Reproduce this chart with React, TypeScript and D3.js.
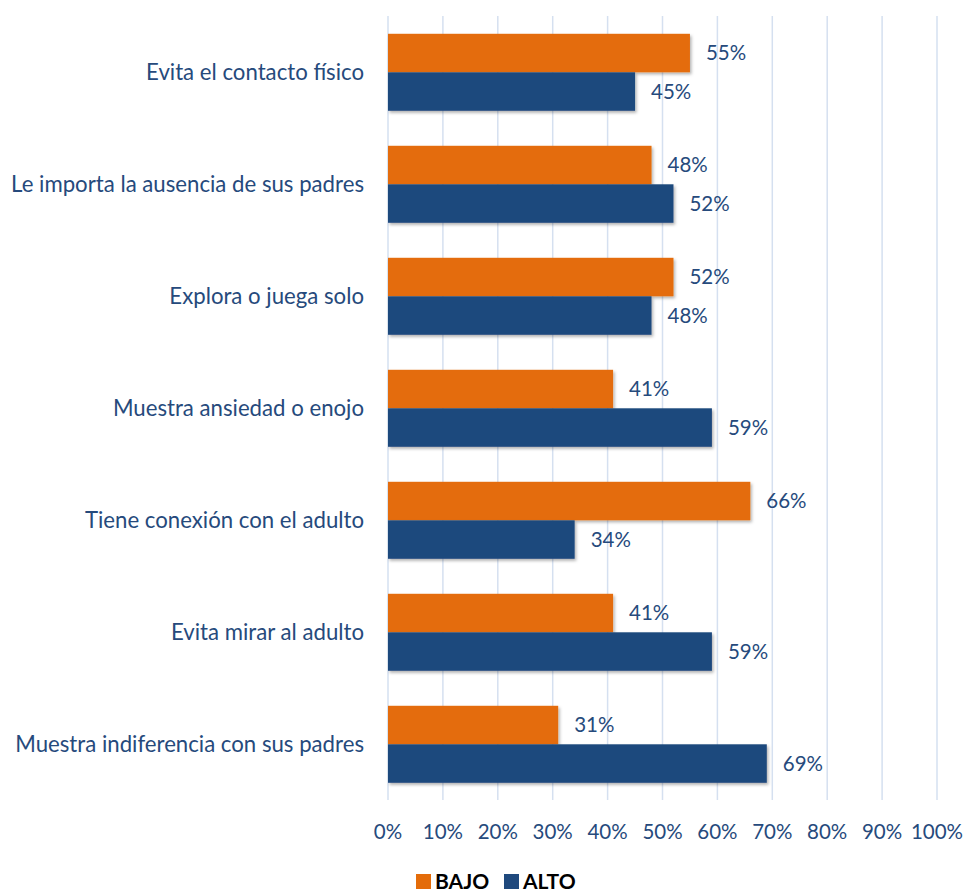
import React from "react";
import * as d3 from "d3";

const categories = [
  "Evita el contacto físico",
  "Le importa la ausencia de sus padres",
  "Explora o juega solo",
  "Muestra ansiedad o enojo",
  "Tiene conexión con el adulto",
  "Evita mirar al adulto",
  "Muestra indiferencia con sus padres",
];
const bajo = [55, 48, 52, 41, 66, 41, 31];
const alto = [45, 52, 48, 59, 34, 59, 69];
const seriesNames = ["BAJO", "ALTO"];
const colors = ["#e46c0a", "#1f497d"];
const ticks = [0, 10, 20, 30, 40, 50, 60, 70, 80, 90, 100];

const W = 965;
const H = 893;
const FONT = "Lato, sans-serif";
const TEXT = "#264a7c";
const FS = 20.5;

export default function App() {
  const x = d3.scaleLinear().domain([0, 100]).range([388, 937]);
  const y = d3.scaleBand<string>().domain(categories).range([16.3, 800.3]).paddingInner(0.3125).paddingOuter(0.15625);
  const bw = y.bandwidth() / 2;
  const series = [bajo, alto];
  return (
    <svg width={W} height={H} style={{ position: "absolute", left: 0, top: 0 }}>
      <defs>
        <filter id="sh" x="-5%" y="-20%" width="115%" height="160%">
          <feDropShadow dx="1.5" dy="2" stdDeviation="1.5" floodColor="#000" floodOpacity="0.3" />
        </filter>
      </defs>
      <rect width={W} height={H} fill="#fff" />
      {ticks.map((t) => (
        <line key={t} x1={x(t)} x2={x(t)} y1={16} y2={800} stroke="#d5e0f0" strokeWidth={1.5} />
      ))}
      {categories.map((c, i) => (
        <g key={c}>
          {series.map((s, k) => {
            const y0 = (y(c) as number) + k * bw;
            return (
              <g key={k}>
                <rect x={x(0)} y={y0} width={x(s[i]) - x(0)} height={bw} fill={colors[k]} filter="url(#sh)" />
                <text x={x(s[i]) + 16} y={y0 + bw / 2} dy="0.36em" fontFamily={FONT} fontSize={FS} fill={TEXT}>
                  {s[i]}%
                </text>
              </g>
            );
          })}
          <text x={364} y={(y(c) as number) + bw} dy="0.36em" textAnchor="end" fontFamily={FONT} fontSize={22.2} fill={TEXT}>
            {c}
          </text>
        </g>
      ))}
      {ticks.map((t) => (
        <text key={t} x={x(t)} y={832} dy="0.36em" textAnchor="middle" fontFamily={FONT} fontSize={FS} fill={TEXT}>
          {t}%
        </text>
      ))}
      {seriesNames.map((n, k) => {
        const lx = [416, 504][k];
        return (
          <g key={n}>
            <rect x={lx} y={874} width={15} height={15} fill={colors[k]} />
            <text x={lx + 19} y={888.5} fontFamily={FONT} fontSize={21} fontWeight="bold" fill="#000">
              {n}
            </text>
          </g>
        );
      })}
    </svg>
  );
}
